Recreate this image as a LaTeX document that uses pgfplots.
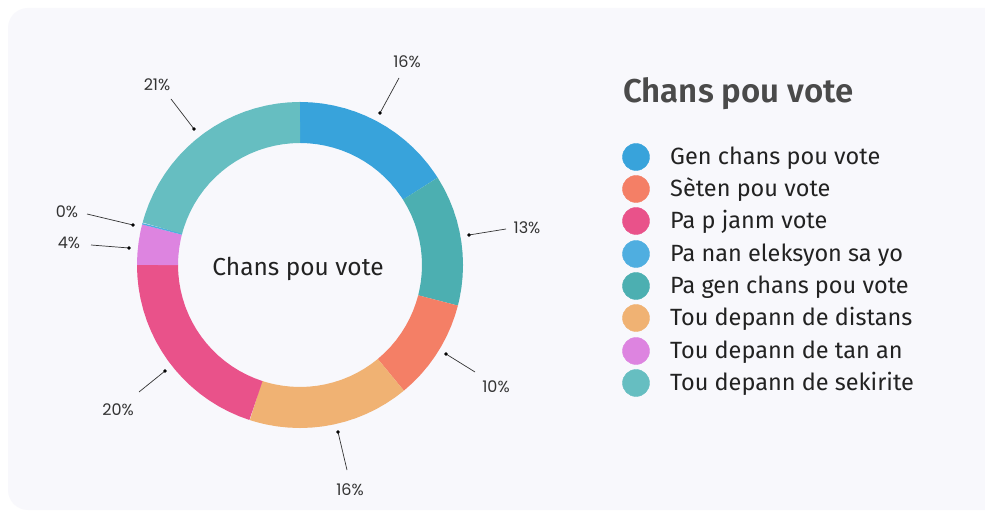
\documentclass[border=0pt]{standalone}
\usepackage{pgfplots}
\pgfplotsset{compat=1.18}
\usepackage{fontspec}
\setmainfont{Fira Sans}
\newfontfamily\labelfont{Poppins}
\newfontfamily\titlefont{Fira Sans SemiBold}
\definecolor{bg}{HTML}{F8F8FC}
\definecolor{cBlue}{HTML}{38A3DB}
\definecolor{cOrange}{HTML}{F47F66}
\definecolor{cPink}{HTML}{E9528A}
\definecolor{cLBlue}{HTML}{4FAEE0}
\definecolor{cTeal}{HTML}{4CAFB1}
\definecolor{cLOrange}{HTML}{F0B273}
\definecolor{cViolet}{HTML}{DD84E0}
\definecolor{cLTeal}{HTML}{66BEC1}
\definecolor{txt}{HTML}{222222}
\definecolor{ttl}{HTML}{4A4A4A}
\definecolor{lbl}{HTML}{333333}
\begin{document}
\begin{tikzpicture}
\fill[white] (0,0) rectangle (985bp,511bp);
\fill[bg, rounded corners=20bp] (8bp,1bp) rectangle (1010bp,503bp);
\begin{axis}[at={(0,0)}, anchor=south west, width=985bp, height=511bp, scale only axis,
  xmin=-300, xmax=685, ymin=-246, ymax=265, hide axis, clip=false,
  ring/.style={line width=41bp, data cs=polar, no markers},
  lead/.style={draw=lbl, line width=0.7bp, mark=*, mark size=1.4bp, mark indices={2}, mark options={fill=black, draw=black}}]
% donut: (angle, radius) -- mid radius 142.5, ring width 41
\addplot[ring, cBlue] coordinates {(90,142.5) (89.7,142.5) (86,142.5) (82,142.5) (78,142.5) (74,142.5) (70,142.5) (66,142.5) (62,142.5) (58,142.5) (54,142.5) (50,142.5) (46,142.5) (42,142.5) (38,142.5) (34,142.5) (32.7,142.5) (32.4,142.5)};
\addplot[ring, cTeal] coordinates {(32.4,142.5) (32.1,142.5) (28,142.5) (24,142.5) (20,142.5) (16,142.5) (12,142.5) (8,142.5) (4,142.5) (0,142.5) (-4,142.5) (-8,142.5) (-12,142.5) (-14.1,142.5) (-14.4,142.5)};
\addplot[ring, cOrange] coordinates {(-14.4,142.5) (-14.7,142.5) (-18,142.5) (-22,142.5) (-26,142.5) (-30,142.5) (-34,142.5) (-38,142.5) (-42,142.5) (-46,142.5) (-50.1,142.5) (-50.4,142.5)};
\addplot[ring, cLOrange] coordinates {(-50.4,142.5) (-50.7,142.5) (-54,142.5) (-58,142.5) (-62,142.5) (-66,142.5) (-70,142.5) (-74,142.5) (-78,142.5) (-82,142.5) (-86,142.5) (-90,142.5) (-94,142.5) (-98,142.5) (-102,142.5) (-105,142.5) (-107.7,142.5) (-108,142.5)};
\addplot[ring, cPink] coordinates {(-108,142.5) (-108.3,142.5) (-112,142.5) (-116,142.5) (-120,142.5) (-124,142.5) (-128,142.5) (-132,142.5) (-136,142.5) (-140,142.5) (-144,142.5) (-148,142.5) (-152,142.5) (-156,142.5) (-160,142.5) (-164,142.5) (-168,142.5) (-172,142.5) (-176,142.5) (-179.7,142.5) (-180,142.5)};
\addplot[ring, cViolet] coordinates {(-180,142.5) (-180.3,142.5) (-184,142.5) (-188,142.5) (-192,142.5) (-194.1,142.5) (-194.4,142.5)};
\addplot[ring, cLBlue] coordinates {(-194.4,142.5) (-194.6,142.5) (-194.8,142.5) (-195,142.5)};
\addplot[ring, cLTeal] coordinates {(-195,142.5) (-195.3,142.5) (-198,142.5) (-202,142.5) (-206,142.5) (-210,142.5) (-214,142.5) (-218,142.5) (-222,142.5) (-226,142.5) (-230,142.5) (-234,142.5) (-238,142.5) (-242,142.5) (-246,142.5) (-250,142.5) (-254,142.5) (-258,142.5) (-262,142.5) (-266,142.5) (-269.7,142.5) (-270,142.5)};
% leader lines
\addplot[lead] coordinates {(99,187) (80,152)};
\addplot[lead] coordinates {(206,36) (169,30)};
\addplot[lead] coordinates {(175,-107) (146,-89)};
\addplot[lead] coordinates {(47,-205) (38,-167)};
\addplot[lead] coordinates {(-161,-127) (-135,-106)};
\addplot[lead] coordinates {(-209,20) (-171,17)};
\addplot[lead] coordinates {(-213,51) (-167,40)};
\addplot[lead] coordinates {(-129,166) (-106,136)};
% percentage labels
\begin{scope}[every node/.style={font=\labelfont\fontsize{16bp}{18bp}\selectfont, text=lbl}]
\node at (axis cs:107,203) {16\%};
\node at (axis cs:227,37) {13\%};
\node at (axis cs:196,-122) {10\%};
\node at (axis cs:50,-225) {16\%};
\node at (axis cs:-182,-145) {20\%};
\node at (axis cs:-231,22) {4\%};
\node at (axis cs:-233,53) {0\%};
\node at (axis cs:-143,180) {21\%};
\end{scope}
% centre text
\node[anchor=base, text=txt, font=\fontsize{24.5bp}{28bp}\selectfont] at (axis cs:-2,-11) {Chans pou vote};
% legend
\node[anchor=base west, inner sep=0pt, text=ttl, font=\titlefont\fontsize{33bp}{38bp}\selectfont] at (axis cs:323,162) {Chans pou vote};
\addplot[only marks, mark=*, mark size=13.5bp, cBlue] coordinates {(336,108)};
\addplot[only marks, mark=*, mark size=13.5bp, cOrange] coordinates {(336,76)};
\addplot[only marks, mark=*, mark size=13.5bp, cPink] coordinates {(336,44)};
\addplot[only marks, mark=*, mark size=13.5bp, cLBlue] coordinates {(336,11)};
\addplot[only marks, mark=*, mark size=13.5bp, cTeal] coordinates {(336,-21)};
\addplot[only marks, mark=*, mark size=13.5bp, cLOrange] coordinates {(336,-53)};
\addplot[only marks, mark=*, mark size=13.5bp, cViolet] coordinates {(336,-86)};
\addplot[only marks, mark=*, mark size=13.5bp, cLTeal] coordinates {(336,-118)};
\begin{scope}[every node/.style={anchor=base west, inner sep=0pt, text=txt, font=\fontsize{23.5bp}{27bp}\selectfont}]
\node at (axis cs:370,100) {Gen chans pou vote};
\node at (axis cs:370,68) {Sèten pou vote};
\node at (axis cs:370,36) {Pa p janm vote};
\node at (axis cs:370,3) {Pa nan eleksyon sa yo};
\node at (axis cs:370,-29) {Pa gen chans pou vote};
\node at (axis cs:370,-61) {Tou depann de distans};
\node at (axis cs:370,-94) {Tou depann de tan an};
\node at (axis cs:370,-126) {Tou depann de sekirite};
\end{scope}
\end{axis}
\pgfresetboundingbox
\useasboundingbox (0,0) rectangle (985bp,511bp);
\end{tikzpicture}
\end{document}
